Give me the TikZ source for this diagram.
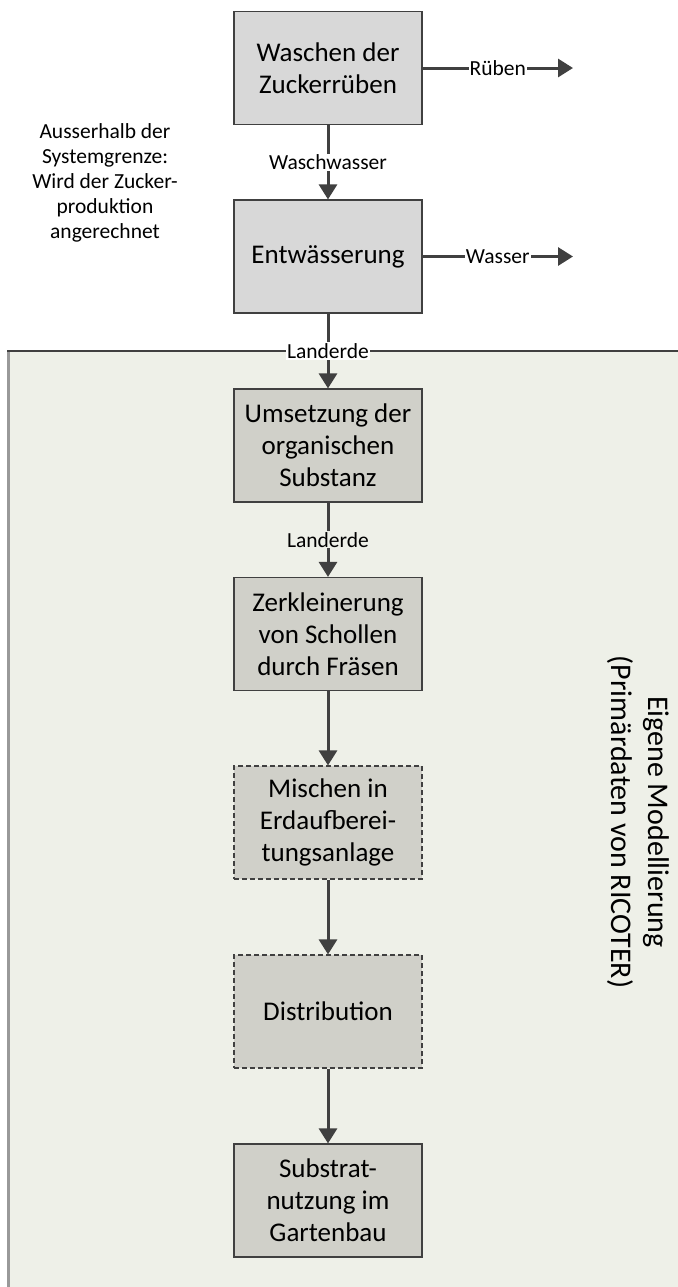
\documentclass[tikz,border=0pt]{standalone}
\usepackage{fontspec}
\setmainfont{Carlito}
\usetikzlibrary{arrows.meta}
\definecolor{boxout}{HTML}{D8D8D8}
\definecolor{boxin}{HTML}{D0D0C9}
\definecolor{region}{HTML}{EEF0E8}
\definecolor{ink}{HTML}{404040}
\begin{document}
\begin{tikzpicture}[x=1bp,y=-1bp,
  procbox/.style={draw=ink,line width=1.2bp,minimum width=188bp,minimum height=113bp,inner sep=0pt,align=center,
    font=\fontsize{27bp}{32bp}\selectfont},
  outbox/.style={procbox,fill=boxout},
  inbox/.style={procbox,fill=boxin},
  dashbox/.style={procbox,fill=boxin,dash pattern=on 5bp off 3bp},
  flow/.style={draw=ink,line width=3bp,-{Triangle[length=15bp,width=18bp]}},
  flowlabel/.style={font=\fontsize{21.5bp}{25bp}\selectfont,inner sep=1bp,fill=#1},
  flowlabel/.default=white
]
\useasboundingbox (0,0) rectangle (678,1287);
\fill[white] (0,0) rectangle (678,1287);
% system boundary region
\fill[region] (7,351) rectangle (678,1287);
\draw[gray!80,line width=2.5bp] (8.5,351) -- (8.5,1287);
\draw[ink,line width=1.2bp] (7,351) -- (678,351);

% outside boxes
\node[outbox] (wash) at (328,68) {Waschen der\\Zuckerrüben};
\node[outbox] (dewater) at (328,256.5) {Entwässerung};
% inside boxes
\node[inbox] (conv) at (328,445.5) {Umsetzung der\\organischen\\Substanz};
\node[inbox] (crush) at (328,634) {Zerkleinerung\\von Schollen\\durch Fräsen};
\node[dashbox] (mix) at (328,822.5) {Mischen in\\Erdaufberei-\\tungsanlage};
\node[dashbox] (dist) at (328,1011.5) {Distribution};
\node[inbox] (use) at (328,1200.5) {Substrat-\\nutzung im\\Gartenbau};

\coordinate (ruebenend) at (573,68);
\coordinate (wasserend) at (573,256.5);

% connectors
\draw[flow] (wash.east) -- node[flowlabel] {Rüben} (ruebenend);
\draw[flow] (dewater.east) -- node[flowlabel] {Wasser} (wasserend);
\draw[flow] (wash.south) -- node[flowlabel] {Waschwasser} (dewater.north);
\draw[flow] (dewater.south) -- node[flowlabel] {Landerde} (conv.north);
\draw[flow] (conv.south) -- node[flowlabel=region] {Landerde} (crush.north);
\draw[flow] (crush.south) -- (mix.north);
\draw[flow] (mix.south) -- (dist.north);
\draw[flow] (dist.south) -- (use.north);

% side texts
\node[align=center,font=\fontsize{21.5bp}{25bp}\selectfont] (outside) at (105,182.5)
  {Ausserhalb der\\Systemgrenze:\\Wird der Zucker-\\produktion\\angerechnet};
\node[align=center,rotate=-90,font=\fontsize{30bp}{37bp}\selectfont] (model) at (638,822)
  {Eigene Modellierung\\(Primärdaten von RICOTER)};
\end{tikzpicture}
\end{document}
